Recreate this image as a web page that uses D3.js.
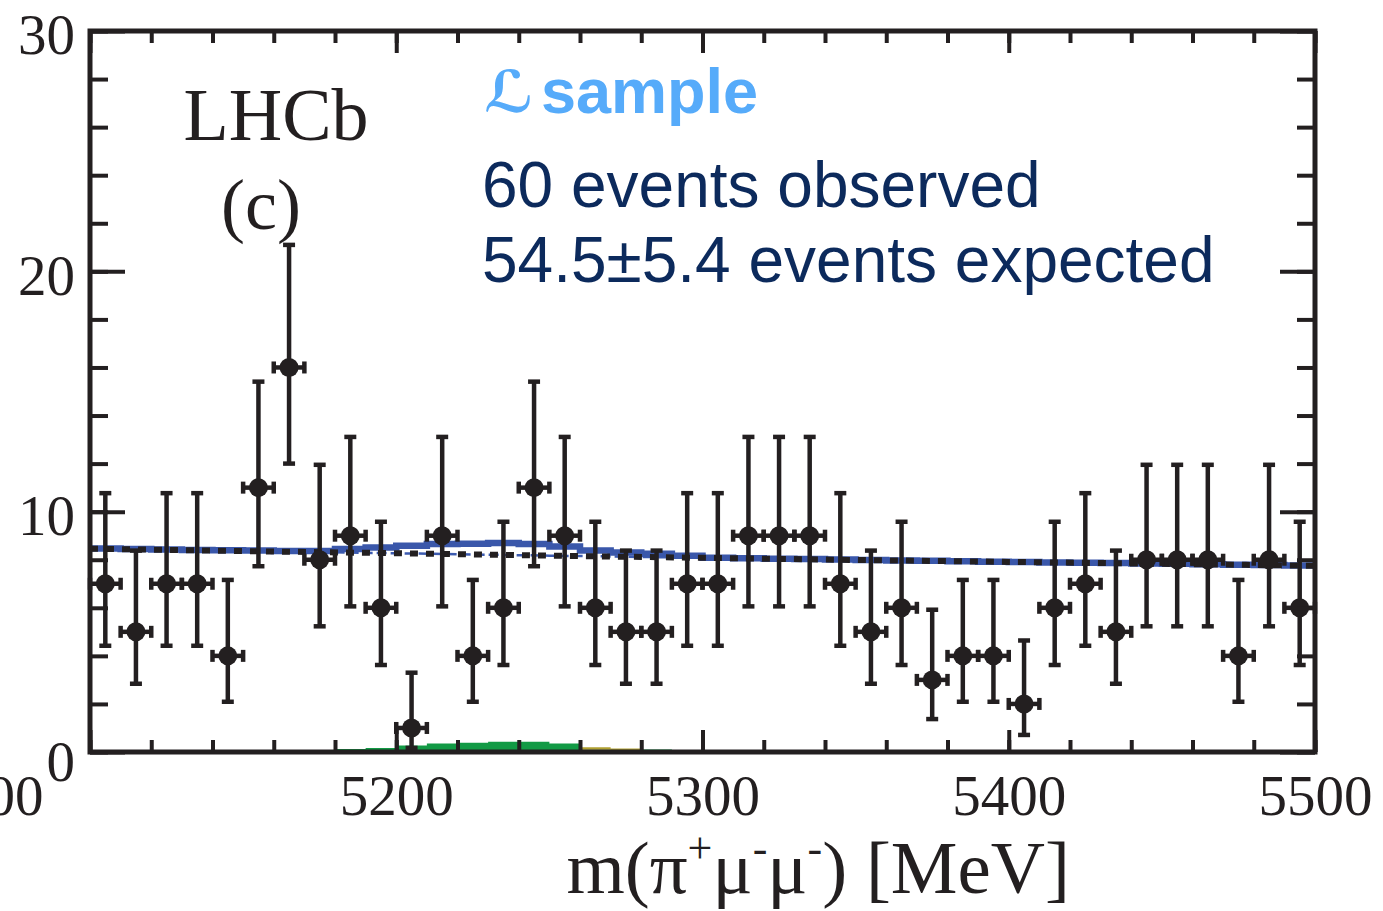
<!DOCTYPE html>
<html>
<head>
<meta charset="utf-8">
<script src="https://cdn.jsdelivr.net/npm/d3@7"></script>
<style>
body{margin:0;background:#fff;}
</style>
</head>
<body>
<div id="chart"></div>
<script>
'use strict'

// m(pi+ mu- mu-) bins, 10 MeV wide
var binCenters = [5105, 5115, 5125, 5135, 5145, 5155, 5165, 5175, 5185, 5195,
	5205, 5215, 5225, 5235, 5245, 5255, 5265, 5275, 5285, 5295,
	5305, 5315, 5325, 5335, 5345, 5355, 5365, 5375, 5385, 5395,
	5405, 5415, 5425, 5435, 5445, 5455, 5465, 5475, 5485, 5495]
var counts = [7, 5, 7, 7, 4, 11, 16, 8, 9, 6,
	1, 9, 4, 6, 11, 9, 6, 5, 5, 7,
	7, 9, 9, 9, 7, 5, 6, 3, 4, 4,
	2, 6, 7, 5, 8, 8, 8, 4, 8, 6]
// poisson error bar ends
var errLow = [4.42, 2.84, 4.42, 4.42, 2.09, 7.73, 12.0, 5.23, 6.06, 3.62,
	0.17, 6.06, 2.09, 3.62, 7.73, 6.06, 3.62, 2.84, 2.84, 4.42,
	4.42, 6.06, 6.06, 6.06, 4.42, 2.84, 3.62, 1.37, 2.09, 2.09,
	0.71, 3.62, 4.42, 2.84, 5.23, 5.23, 5.23, 2.09, 5.23, 3.62]
var errHigh = [10.77, 8.38, 10.77, 10.77, 7.16, 15.41, 21.1, 11.95, 13.11, 9.58,
	3.30, 13.11, 7.16, 9.58, 15.41, 13.11, 9.58, 8.38, 8.38, 10.77,
	10.77, 13.11, 13.11, 13.11, 10.77, 8.38, 9.58, 5.92, 7.16, 7.16,
	4.64, 9.58, 10.77, 8.38, 11.95, 11.95, 11.95, 7.16, 11.95, 9.58]

// total fit per bin (blue)
var totalFit = [8.47, 8.45, 8.43, 8.41, 8.39, 8.38, 8.36, 8.36, 8.45, 8.51,
	8.58, 8.65, 8.67, 8.70, 8.65, 8.55, 8.38, 8.30, 8.25, 8.17,
	8.08, 8.06, 8.04, 8.03, 8.01, 7.99, 7.97, 7.96, 7.94, 7.92,
	7.91, 7.89, 7.87, 7.86, 7.84, 7.83, 7.81, 7.79, 7.78, 7.76]

// background (dotted)
var bkgMass = [5100, 5150, 5200, 5250, 5300, 5350, 5400, 5450, 5500]
var bkgFit = [8.46, 8.36, 8.27, 8.17, 8.08, 7.99, 7.91, 7.83, 7.75]

// signal components at the bottom
var sigBinLow = [5180, 5190, 5200, 5210, 5220, 5230, 5240, 5250, 5260, 5270, 5280]
var sigGreen = [0.13, 0.17, 0.27, 0.35, 0.38, 0.43, 0.43, 0.35, 0.09, 0.07, 0.1]
var sigOlive = [0, 0, 0, 0, 0, 0, 0, 0, 0.11, 0.08, 0]

var xTicks = [5100, 5200, 5300, 5400, 5500]
var yTicks = [0, 10, 20, 30]

var binWidth = 10
var ink = "#231f20"
var serif = "'Liberation Serif', 'Times New Roman', serif"
var sans = "'Liberation Sans', Arial, Helvetica, sans-serif"

var svg = d3.select('#chart')
	.append("svg")
	.attr("width", 1383)
	.attr("height", 911)

var x = d3.scaleLinear().domain([5100, 5500]).range([90, 1315])
var y = d3.scaleLinear().domain([0, 30]).range([752, 31])

// green + olive components
var green = sigBinLow.map(function(d, i){ return {m : d, v : sigGreen[i], o : sigOlive[i]} })
green.push({m : sigBinLow[sigBinLow.length - 1] + binWidth, v : sigGreen[sigGreen.length - 1], o : 0})

svg.append("path")
	.datum(green)
	.attr("d", d3.area().curve(d3.curveStepAfter)
		.x(function(d){ return x(d.m) })
		.y0(y(0))
		.y1(function(d){ return y(d.v) }))
	.style("fill", "#129a45")

svg.append("path")
	.datum(green)
	.attr("d", d3.area().curve(d3.curveStepAfter)
		.x(function(d){ return x(d.m) })
		.y0(function(d){ return y(d.v) })
		.y1(function(d){ return y(d.v + d.o) }))
	.style("fill", "#b0a032")

// background outline, thin dashed blue
var bkgPts = bkgMass.map(function(d, i){ return [d, bkgFit[i]] })
var outline = [[5100, 0]].concat(bkgPts).concat([[5500, 0]])
svg.append("path")
	.datum(outline)
	.attr("d", d3.line()
		.x(function(d){ return x(d[0]) })
		.y(function(d){ return y(d[1]) }))
	.style("fill", "none")
	.style("stroke", "#3c5bb0")
	.style("stroke-width", 2.5)
	.style("stroke-dasharray", "10,4")

// total fit, stepped
var totPts = binCenters.map(function(d, i){ return [d - binWidth / 2, totalFit[i]] })
totPts.push([5500, totalFit[totalFit.length - 1]])
svg.append("path")
	.datum(totPts)
	.attr("d", d3.line().curve(d3.curveStepAfter)
		.x(function(d){ return x(d[0]) })
		.y(function(d){ return y(d[1]) }))
	.style("fill", "none")
	.style("stroke", "#3a57aa")
	.style("stroke-width", 6.5)

// background, dotted black
svg.append("path")
	.datum(bkgPts)
	.attr("d", d3.line().curve(d3.curveMonotoneX)
		.x(function(d){ return x(d[0]) })
		.y(function(d){ return y(d[1]) }))
	.style("fill", "none")
	.style("stroke", ink)
	.style("stroke-width", 6)
	.style("stroke-dasharray", "8,8")

// data points
var pts = binCenters.map(function(d, i){
	return {m : d, n : counts[i], lo : errLow[i], hi : errHigh[i]}
})
var pg = svg.append("g").style("stroke", ink).style("stroke-width", 4.5)
var cap = 6

pts.forEach(function(d){
	var cx = x(d.m)
	var cy = y(d.n)
	var xl = x(d.m - binWidth / 2)
	var xr = x(d.m + binWidth / 2)
	pg.append("line").attr("x1", cx).attr("x2", cx).attr("y1", y(d.lo)).attr("y2", y(d.hi))
	pg.append("line").attr("x1", cx - cap).attr("x2", cx + cap).attr("y1", y(d.lo)).attr("y2", y(d.lo))
	pg.append("line").attr("x1", cx - cap).attr("x2", cx + cap).attr("y1", y(d.hi)).attr("y2", y(d.hi))
	pg.append("line").attr("x1", xl).attr("x2", xr).attr("y1", cy).attr("y2", cy)
	pg.append("line").attr("x1", xl).attr("x2", xl).attr("y1", cy - cap).attr("y2", cy + cap)
	pg.append("line").attr("x1", xr).attr("x2", xr).attr("y1", cy - cap).attr("y2", cy + cap)
})

pg.selectAll("circle")
	.data(pts)
	.enter().append("circle")
	.attr("cx", function(d){ return x(d.m) })
	.attr("cy", function(d){ return y(d.n) })
	.attr("r", 9.5)
	.style("fill", ink)
	.style("stroke", "none")

// axes, ticks inward
function addAxis(axis, tx, ty){
	var g = svg.append("g")
		.attr("transform", "translate(" + tx + "," + ty + ")")
		.call(axis)
	g.select(".domain").remove()
	g.selectAll(".tick line").style("stroke", ink).style("stroke-width", 4)
	g.selectAll(".tick text")
		.style("fill", ink)
		.style("font-family", serif)
		.style("font-size", "57px")
	return g
}

var bx = addAxis(d3.axisBottom(x).tickValues(xTicks).tickSize(-22).tickPadding(23).tickFormat(d3.format("d")), 0, y(0))
addAxis(d3.axisBottom(x).ticks(20).tickSize(-12).tickFormat(""), 0, y(0))
addAxis(d3.axisTop(x).tickValues(xTicks).tickSize(-22).tickFormat(""), 0, y(30))
addAxis(d3.axisTop(x).ticks(20).tickSize(-12).tickFormat(""), 0, y(30))

var ly = addAxis(d3.axisLeft(y).tickValues(yTicks).tickSize(-35).tickPadding(15), x(5100), 0)
addAxis(d3.axisLeft(y).ticks(15).tickSize(-18).tickFormat(""), x(5100), 0)
addAxis(d3.axisRight(y).tickValues(yTicks).tickSize(-35).tickFormat(""), x(5500), 0)
addAxis(d3.axisRight(y).ticks(15).tickSize(-18).tickFormat(""), x(5500), 0)

ly.selectAll(".tick text").attr("dy", "0.4em")
ly.selectAll(".tick text").filter(function(d){ return d == 0 }).attr("dy", "0.5em")
// first x label sits off to the left, half cut, as in the original
bx.selectAll(".tick text").filter(function(d){ return d == 5100 }).attr("dx", -104)

// frame
svg.append("rect")
	.attr("x", x(5100))
	.attr("y", y(30))
	.attr("width", x(5500) - x(5100))
	.attr("height", y(0) - y(30))
	.style("fill", "none")
	.style("stroke", ink)
	.style("stroke-width", 5)

// labels
svg.append("text")
	.attr("x", 276).attr("y", 140)
	.attr("text-anchor", "middle")
	.style("font-family", serif).style("font-size", "74px").style("fill", ink)
	.text("LHCb")
svg.append("text")
	.attr("x", 261).attr("y", 229)
	.attr("text-anchor", "middle")
	.style("font-family", serif).style("font-size", "72px").style("fill", ink)
	.text("(c)")

svg.append("text")
	.attr("x", 484).attr("y", 112)
	.style("font-family", "'DejaVu Sans', sans-serif").style("font-style", "italic")
	.style("font-weight", "bold")
	.style("font-size", "58px").style("fill", "#56abfa")
	.text("ℒ")
svg.append("text")
	.attr("x", 541).attr("y", 113)
	.style("font-family", sans).style("font-weight", "bold")
	.style("font-size", "63px").style("fill", "#56abfa")
	.text("sample")
svg.append("text")
	.attr("x", 482).attr("y", 207)
	.style("font-family", sans).style("font-size", "64px").style("fill", "#0c2a5c")
	.text("60 events observed")
svg.append("text")
	.attr("x", 482).attr("y", 282)
	.style("font-family", sans).style("font-size", "64px").style("fill", "#0c2a5c")
	.text("54.5±5.4 events expected")

var xt = svg.append("text")
	.attr("x", 1070).attr("y", 893)
	.attr("text-anchor", "end")
	.style("font-family", serif).style("font-size", "75px").style("fill", ink)
xt.append("tspan").text("m(π")
xt.append("tspan").attr("dy", -30).style("font-size", "44px").text("+")
xt.append("tspan").attr("dy", 30).text("μ")
xt.append("tspan").attr("dy", -30).style("font-size", "44px").text("-")
xt.append("tspan").attr("dy", 30).text("μ")
xt.append("tspan").attr("dy", -30).style("font-size", "44px").text("-")
xt.append("tspan").attr("dy", 30).text(") [MeV]")
</script>
</body>
</html>
